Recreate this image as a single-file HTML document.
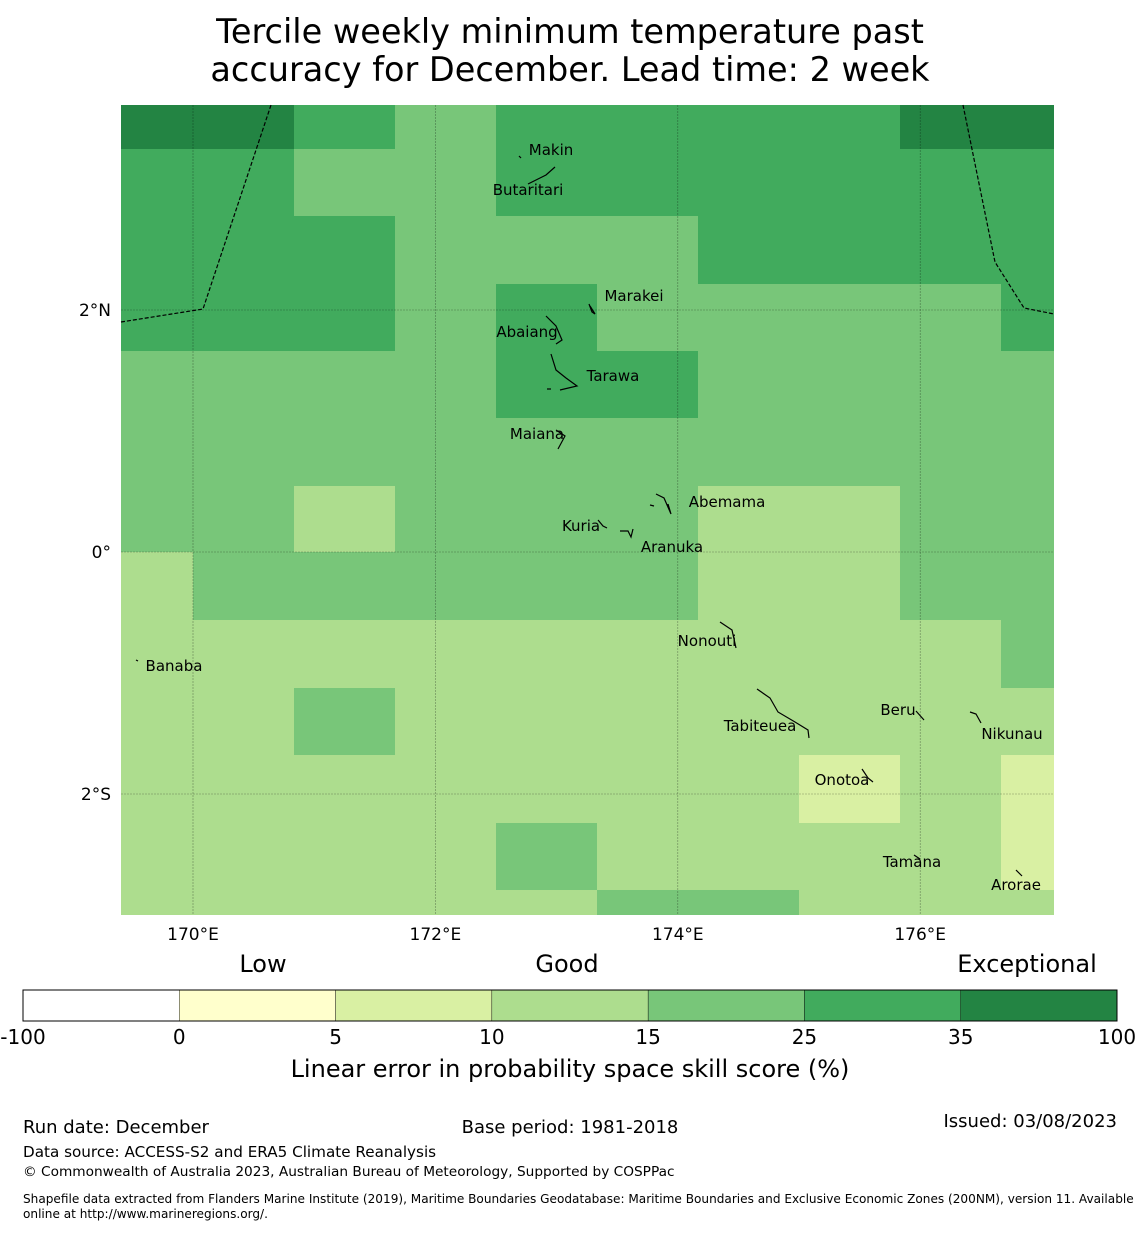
<!DOCTYPE html>
<html><head><meta charset="utf-8"><style>
body{margin:0;background:#fff;font-family:"DejaVu Sans","Liberation Sans",sans-serif}
svg text{font-family:"DejaVu Sans","Liberation Sans",sans-serif}
</style></head><body>
<svg id="s" width="1140" height="1230" xmlns="http://www.w3.org/2000/svg">
<text x="570" y="43" font-size="33.5" text-anchor="middle">Tercile weekly minimum temperature past</text>
<text x="570" y="81" font-size="33.5" text-anchor="middle">accuracy for December. Lead time: 2 week</text>
<g id="cells"></g>
<g id="grid"></g>
<g fill="none" stroke="#000" stroke-dasharray="4,2" stroke-width="1.2">
<polyline points="121,322 203,309 271,105"/>
<polyline points="963,105 995,262 1024,308 1054,314"/>
</g>
<g id="isl" fill="none" stroke="#000" stroke-width="1.2"></g>
<g id="lab" font-size="15"></g>
<g id="ticks" font-size="17"></g>
<g id="cbar"></g>
<text x="263" y="972" font-size="24" text-anchor="middle">Low</text>
<text x="567" y="972" font-size="24" text-anchor="middle">Good</text>
<text x="1027" y="972" font-size="24" text-anchor="middle">Exceptional</text>
<text x="570" y="1077" font-size="24" text-anchor="middle">Linear error in probability space skill score (%)</text>
<text x="23" y="1133" font-size="18">Run date: December</text>
<text x="570" y="1133" font-size="18" text-anchor="middle">Base period: 1981-2018</text>
<text x="1117" y="1127" font-size="18" text-anchor="end">Issued: 03/08/2023</text>
<text x="23" y="1157" font-size="15.2">Data source: ACCESS-S2 and ERA5 Climate Reanalysis</text>
<text x="23" y="1176" font-size="13.7">© Commonwealth of Australia 2023, Australian Bureau of Meteorology, Supported by COSPPac</text>
<text x="23" y="1203" font-size="12.1">Shapefile data extracted from Flanders Marine Institute (2019), Maritime Boundaries Geodatabase: Maritime Boundaries and Exclusive Economic Zones (200NM), version 11. Available</text>
<text x="23" y="1218" font-size="12.1">online at http://www.marineregions.org/.</text>
</svg>
<script>
const colors=["#ffffff","#ffffcc","#d9f0a3","#addd8e","#78c679","#41ab5d","#238443"];
const cbTicks=["-100","0","5","10","15","25","35","100"];
const colEdges=[121,193,294,395,496,597,698,799,900,1001,1054];
const rowEdges=[105,149,216,284,351,418,486,552,620,688,755,823,890,915];
const r0=[6,6,5,4,5,5,5,5,6,6];
const r1=[5,5,4,4,5,5,5,5,5,5];
const r2=[5,5,5,4,4,4,5,5,5,5];
const r3=[5,5,5,4,5,4,4,4,4,5];
const r4=[4,4,4,4,5,5,4,4,4,4];
const r5=[4,4,4,4,4,4,4,4,4,4];
const r6=[4,4,3,4,4,4,3,3,4,4];
const r7=[3,4,4,4,4,4,3,3,4,4];
const r8=[3,3,3,3,3,3,3,3,3,4];
const r9=[3,3,4,3,3,3,3,3,3,3];
const r10=[3,3,3,3,3,3,3,2,3,2];
const r11=[3,3,3,3,4,3,3,3,3,2];
const r12=[3,3,3,3,3,4,4,3,3,3];
const rows=[r0,r1,r2,r3,r4,r5,r6,r7,r8,r9,r10,r11,r12];
const lonTicks=[170,172,174,176];
const latTicks=[2,0,-2];
const NS="http://www.w3.org/2000/svg";
const lx=l=>193+(l-170)*121.2, ly=l=>552-l*121;
function mk(t,a,p){const e=document.createElementNS(NS,t);for(const k in a)e.setAttribute(k,a[k]);p.appendChild(e);return e;}
const cells=document.getElementById('cells');
rows.forEach((r,i)=>r.forEach((v,j)=>{
 const e=mk('rect',{x:colEdges[j],y:rowEdges[i],width:colEdges[j+1]-colEdges[j],height:rowEdges[i+1]-rowEdges[i],fill:colors[v]},cells);
 
 
}));
const g=document.getElementById('grid'),tk=document.getElementById('ticks');
lonTicks.forEach(l=>{const x=lx(l);
 mk('line',{x1:x,y1:105,x2:x,y2:915,stroke:'#000','stroke-opacity':0.4,'stroke-width':0.6,'stroke-dasharray':'2,1'},g);
 const t=mk('text',{x:x,y:940,'text-anchor':'middle'},tk);t.textContent=l+'°E';
 
 });
latTicks.forEach(l=>{const y=ly(l);
 mk('line',{x1:121,y1:y,x2:1054,y2:y,stroke:'#000','stroke-opacity':0.4,'stroke-width':0.6,'stroke-dasharray':'2,1'},g);
 const t=mk('text',{x:111,y:y+6,'text-anchor':'end'},tk);t.textContent=l===0?'0°':(Math.abs(l)+'°'+(l>0?'N':'S'));
 
 });
const isl=document.getElementById('isl');
["M519,156 L521,158","M528,184 L540,178 L546,175 L555,167","M589,304 L592,312 L595,314 L590,306","M546,316 L556,326 L562,340 L556,344","M551,354 L556,370 L566,378 L577,386 L560,390","M547,389 L551,389","M556,430 L565,436 L558,449","M656,494 L664,498 L671,514 L668,504","M650,505 L654,506","M598,520 L603,526 L607,528","M620,531 L628,531 L631,537 L633,529","M720,622 L732,630 L736,648","M757,689 L770,698 L778,712 L795,722 L808,730 L809,738","M916,711 L924,720","M970,712 L976,714 L981,723","M862,769 L868,778 L873,782","M914,855 L920,859","M1016,870 L1022,876","M136,660 L138,661"].forEach(d=>mk('path',{d:d},isl));
const lab=document.getElementById('lab');
[["Makin",551,155],["Butaritari",528,195],["Marakei",634,301],["Abaiang",527,337],["Tarawa",613,381],["Maiana",537,439],["Abemama",727,507],["Kuria",581,531],["Aranuka",672,552],["Nonouti",707,646],["Banaba",174,671],["Beru",898,715],["Tabiteuea",760,731],["Nikunau",1012,739],["Onotoa",842,785],["Tamana",912,867],["Arorae",1016,890]].forEach(a=>{
 const t=mk('text',{x:a[1],y:a[2],'text-anchor':'middle'},lab);t.textContent=a[0];
 
 });
const cb=document.getElementById('cbar');const w=(1117-23)/7;
colors.forEach((c,i)=>{const r=mk('rect',{x:23+i*w,y:990,width:w,height:31,fill:c,stroke:'#000','stroke-width':0.4},cb);
 
 });
mk('rect',{x:23,y:990,width:1094,height:31,fill:'none',stroke:'#000','stroke-width':1},cb);
cbTicks.forEach((s,i)=>{const t=mk('text',{x:23+i*w,y:1044,'text-anchor':'middle','font-size':20},cb);t.textContent=s;
 
 });
</script>
</body></html>
